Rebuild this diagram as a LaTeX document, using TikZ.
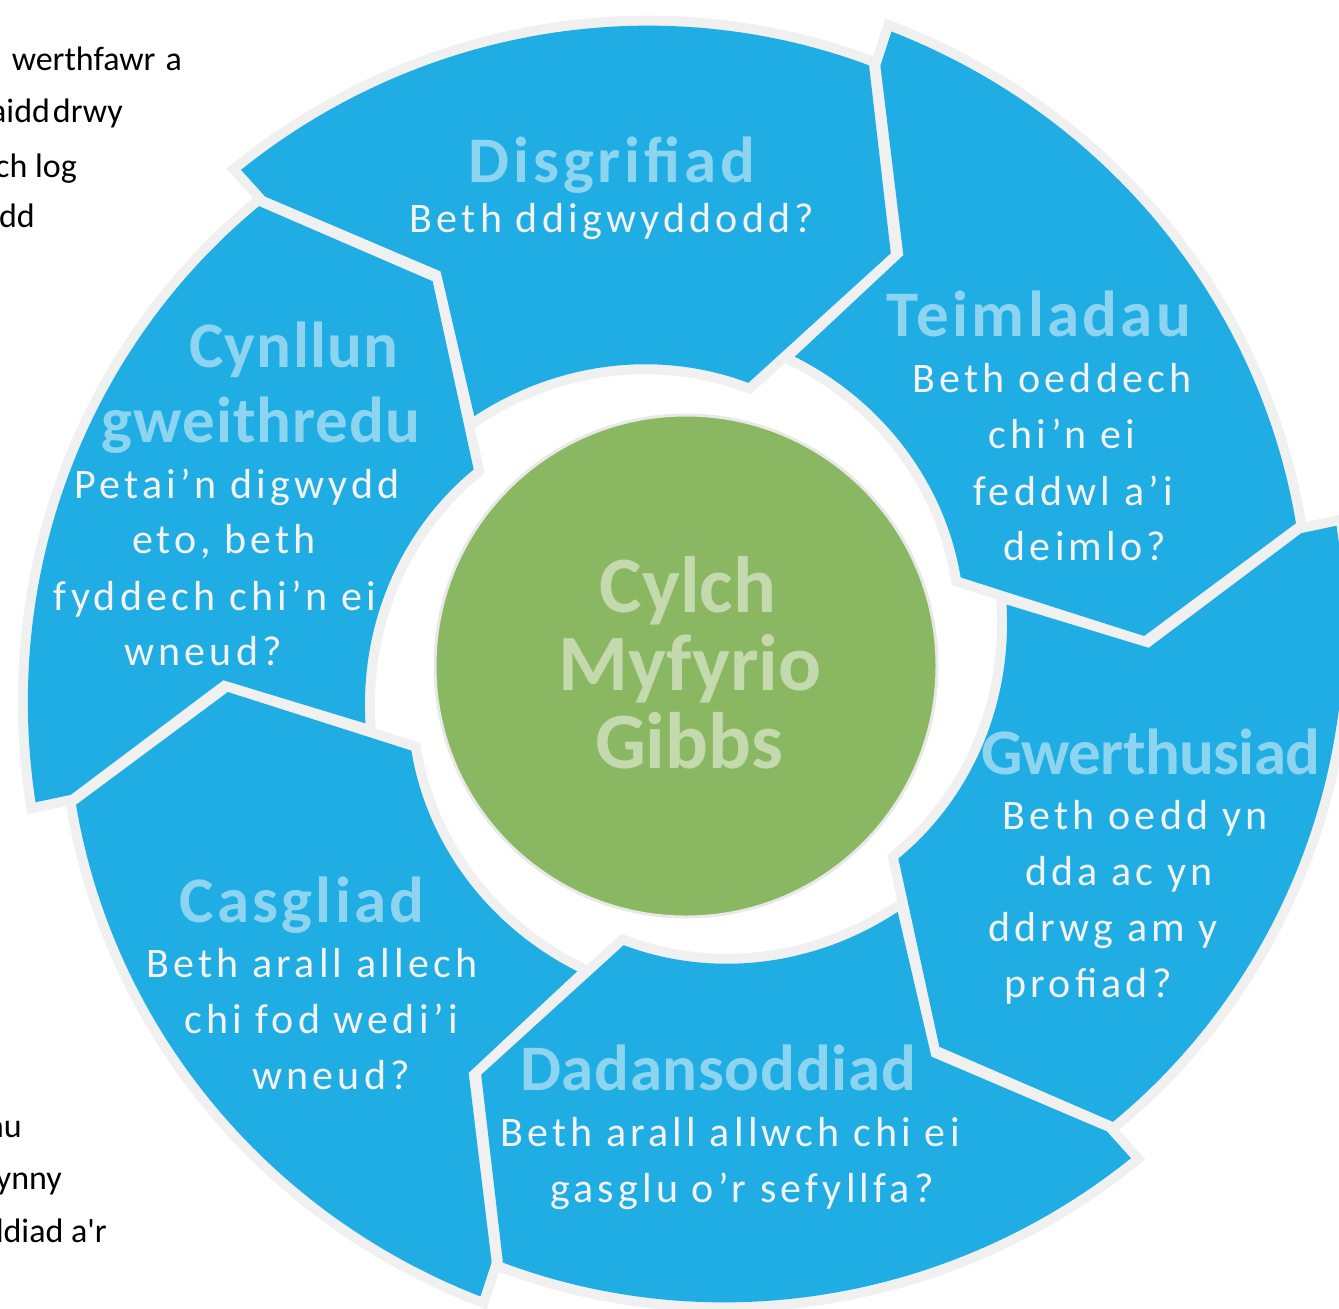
\documentclass[tikz,border=0pt]{standalone}
\usepackage{fontspec}
\setmainfont{Carlito}
\newfontfamily\bodyfont[LetterSpace=10]{Carlito}
\newfontfamily\headfont{Carlito}
\newfontfamily\hubfont{Carlito}
\newfontfamily\bgfont[Ligatures=TeXOff]{Carlito}
\definecolor{segblue}{RGB}{31,173,227}
\definecolor{headblue}{RGB}{141,212,241}
\definecolor{bodywhite}{RGB}{243,243,243}
\definecolor{ringgray}{RGB}{240,240,240}
\definecolor{hubgreen}{RGB}{138,183,98}
\definecolor{hubtext}{RGB}{196,218,174}
\definecolor{hubline}{RGB}{232,232,232}
\begin{document}
\begin{tikzpicture}[x=1pt,y=-1pt,
  segline/.style={draw=ringgray,line width=20,line join=miter,miter limit=3},
  segfill/.style={fill=segblue},
  headtxt/.style={text=headblue,font=\headfont\bfseries\fontsize{65}{65}\selectfont\addfontfeatures{LetterSpace=#1},anchor=base,inner sep=0},
  bodytxt/.style={text=bodywhite,font=\bodyfont\fontsize{42}{56}\selectfont,anchor=base,inner sep=0},
  hubtxt/.style={text=hubtext,font=\hubfont\bfseries\fontsize{80}{78}\selectfont,anchor=base,inner sep=0},
  bgtxt/.style={text=black,font=\bgfont\fontsize{34}{40}\selectfont,anchor=base east,inner sep=0}]
\useasboundingbox (0,0) rectangle (1339,1309);
\clip (0,0) rectangle (1339,1309);
% background document text (cut off at the left edge)
\node[bgtxt] (b1) at (182,70) {werthfawr\kern10pt a};
\node[bgtxt] (b2) at (123,122) {aidd\kern3pt drwy};
\node[bgtxt] (b3) at (77,177) {ch log};
\node[bgtxt] (b4) at (35,227) {ydd};
\node[bgtxt] (b5) at (22,1137) {au};
\node[bgtxt] (b6) at (62,1189) {ynny};
\node[bgtxt] (b7) at (107,1242) {ddiad a'r};
% segment outlines
\foreach \T in {318,18,78,138,198,258}{
  \draw[segline,shift={(686,664)}]
    plot[domain=0:59,samples=60] ({\T+\x-90}:{665-39*\x/59})
    -- ({\T-21.5}:459) -- ({\T-35.5}:288)
    -- plot[domain=54.5:1.5,samples=60] ({\T+\x-90}:{288+38*(54.5-\x)/53})
    -- ({\T-80}:463) -- ({\T-90}:629) -- cycle;
}
% segment fills
\foreach \T in {318,18,78,138,198,258}{
  \fill[segfill,shift={(686,664)}]
    plot[domain=0:59,samples=60] ({\T+\x-90}:{665-39*\x/59})
    -- ({\T-21.5}:459) -- ({\T-35.5}:288)
    -- plot[domain=54.5:1.5,samples=60] ({\T+\x-90}:{288+38*(54.5-\x)/53})
    -- ({\T-80}:463) -- ({\T-90}:629) -- cycle;
}
% hub
\node[circle,fill=hubgreen,draw=hubline,line width=3,minimum size=502,inner sep=0] (hub) at (686,666) {};
\node[hubtxt] (h1) at (688,612) {Cylch};
\node[hubtxt] (h2) at (690,690) {Myfyrio};
\node[hubtxt] (h3) at (689,768) {Gibbs};
% Disgrifiad
\node[headtxt=6] (d0) at (612,182) {Disgrifiad};
\node[bodytxt] (d1) at (612,232) {Beth ddigwyddodd?};
% Teimladau
\node[headtxt=5] (t0) at (1039,336) {Teimladau};
\node[bodytxt] (t1) at (1052,392) {Beth oeddech};
\node[bodytxt] (t2) at (1062,448) {chi’n ei};
\node[bodytxt] (t3) at (1073,505) {feddwl a’i};
\node[bodytxt] (t4) at (1085,560) {deimlo?};
% Gwerthusiad
\node[headtxt=-1] (g0) at (1151,774) {Gwerthusiad};
\node[bodytxt] (g1) at (1135,829) {Beth oedd yn};
\node[bodytxt] (g2) at (1119,885) {dda ac yn};
\node[bodytxt] (g3) at (1103,941) {ddrwg am y};
\node[bodytxt] (g4) at (1088,997) {profiad?};
% Dadansoddiad
\node[headtxt=1] (a0) at (718,1090) {Dadansoddiad};
\node[bodytxt] (a1) at (730,1146) {Beth arall allwch chi ei};
\node[bodytxt] (a2) at (742,1202) {gasglu o’r sefyllfa?};
% Casgliad
\node[headtxt=5] (c0) at (302,922) {Casgliad};
\node[bodytxt] (c1) at (312,977) {Beth arall allech};
\node[bodytxt] (c2) at (321,1033) {chi fod wedi’i};
\node[bodytxt] (c3) at (331,1089) {wneud?};
% Cynllun gweithredu
\node[headtxt=2] (p0) at (294,367) {Cynllun};
\node[headtxt=1.5] (p1) at (261,442) {gweithredu};
\node[bodytxt] (p2) at (237,498) {Petai’n digwydd};
\node[bodytxt] (p3) at (224,553) {eto, beth};
\node[bodytxt] (p4) at (215,610) {fyddech chi’n ei};
\node[bodytxt] (p5) at (203,665) {wneud?};
\end{tikzpicture}
\end{document}
